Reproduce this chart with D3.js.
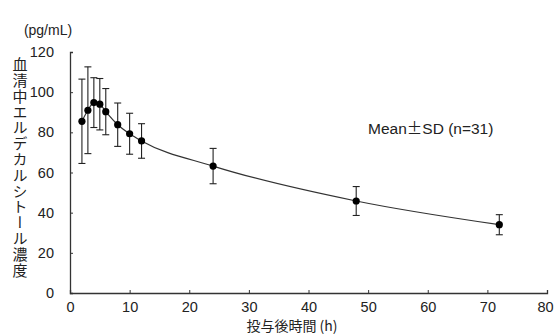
<!DOCTYPE html>
<html>
<head>
<meta charset="utf-8">
<script src="https://cdn.jsdelivr.net/npm/d3@7"></script>
<style>
  body { margin: 0; background: #fff; }
  svg { display: block; font-family: Arial, "Liberation Sans", "Noto Sans CJK JP", sans-serif; }
</style>
</head>
<body>
<div id="chart"></div>
<script>
// Data
const hours = [2, 3, 4, 5, 6, 8, 10, 12, 24, 48, 72];
const means = [85.5, 91, 94.8, 94, 90.3, 83.8, 79.3, 75.7, 63.2, 45.8, 34];
const sds = [21, 21.6, 12.4, 12.8, 11.5, 10.8, 10.2, 8.6, 8.8, 7.2, 5];
const xTicks = [0, 10, 20, 30, 40, 50, 60, 70, 80];
const yTicks = [0, 20, 40, 60, 80, 100, 120];
const yTitle = '血清中エルデカルシトール濃度';

const width = 554, height = 336;

const svg = d3.select('#chart')
    .append('svg')
    .attr('width', width)
    .attr('height', height);

const x = d3.scaleLinear().domain([0, 80]).range([70, 547]);
const y = d3.scaleLinear().domain([0, 120]).range([293, 52]);

// Axes
const xAxis = d3.axisBottom(x).tickValues(xTicks).tickSize(-3).tickPadding(9);
const yAxis = d3.axisLeft(y).tickValues(yTicks).tickSize(-3).tickPadding(16);

const gx = svg.append('g')
    .attr('transform', `translate(0,${y(0)})`)
    .call(xAxis);
const gy = svg.append('g')
    .attr('transform', `translate(${x(0)},0)`)
    .call(yAxis);

[gx, gy].forEach(g => {
    g.select('.domain').attr('stroke', '#333').attr('stroke-width', 1.3);
    g.selectAll('.tick line').attr('stroke', '#333');
    g.selectAll('.tick text')
        .attr('fill', '#222')
        .style('font-size', '14.5px')
        .style('font-family', 'Arial, "Liberation Sans", sans-serif');
});
gy.selectAll('.tick').filter(d => d === 0).select('line').remove();
// keep the last x label inside the window
gx.selectAll('.tick').filter(d => d === 80).select('text').attr('dx', -2);

// Fitted curve through the means
const line = d3.line()
    .x((d, i) => x(hours[i]))
    .y(d => y(d))
    .curve(d3.curveMonotoneX);

svg.append('path')
    .datum(means)
    .attr('d', line)
    .attr('fill', 'none')
    .attr('stroke', '#333')
    .attr('stroke-width', 1.2);

// Error bars
const bars = svg.append('g').attr('stroke', '#222').attr('stroke-width', 1.1);
hours.forEach((h, i) => {
    const cx = x(h);
    const top = y(means[i] + sds[i]);
    const bot = y(means[i] - sds[i]);
    bars.append('line').attr('x1', cx).attr('x2', cx).attr('y1', top).attr('y2', bot);
    bars.append('line').attr('x1', cx - 3.5).attr('x2', cx + 3.5).attr('y1', top).attr('y2', top);
    bars.append('line').attr('x1', cx - 3.5).attr('x2', cx + 3.5).attr('y1', bot).attr('y2', bot);
});

// Mean points
svg.append('g')
    .selectAll('circle')
    .data(means)
    .enter()
    .append('circle')
    .attr('cx', (d, i) => x(hours[i]))
    .attr('cy', d => y(d))
    .attr('r', 3.6)
    .attr('fill', '#000');

// Legend text (full-width ± as in the original)
const leg = svg.append('text')
    .attr('x', 368)
    .attr('y', 134)
    .attr('fill', '#222')
    .style('font-size', '15.5px');
leg.append('tspan').text('Mean');
leg.append('tspan').style('font-family', '"Noto Sans CJK JP", sans-serif').text('±');
leg.append('tspan').text('SD (n=31)');

// Unit label
svg.append('text')
    .attr('x', 48)
    .attr('y', 35)
    .attr('text-anchor', 'middle')
    .attr('fill', '#222')
    .style('font-size', '14px')
    .text('(pg/mL)');

// Vertical y-axis title
svg.append('text')
    .attr('x', 20)
    .attr('y', 57)
    .attr('fill', '#222')
    .style('font-family', '"Noto Sans CJK JP", sans-serif')
    .style('font-size', '15px')
    .style('writing-mode', 'vertical-rl')
    .style('letter-spacing', '0.8px')
    .text(yTitle);

// x-axis title
svg.append('text')
    .attr('x', 292)
    .attr('y', 331)
    .attr('text-anchor', 'middle')
    .attr('fill', '#222')
    .style('font-family', '"Noto Sans CJK JP", sans-serif')
    .style('font-size', '14px')
    .text('投与後時間 (h)');
</script>
</body>
</html>
